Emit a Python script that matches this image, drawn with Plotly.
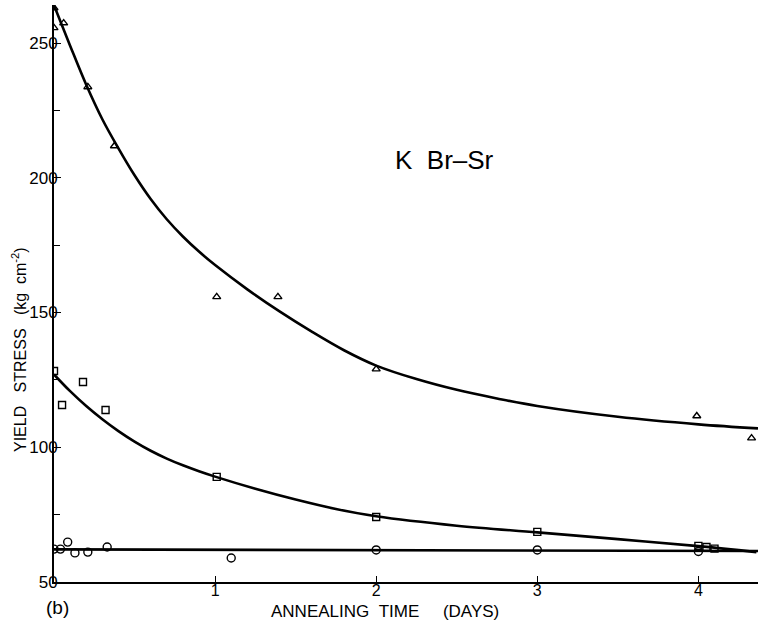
import plotly.graph_objects as go

# Annealing time (days) and yield stress (kg cm^-2) for KBr:Sr
tri_days = [0.0, 0.0, 0.06, 0.21, 0.375, 1.01, 1.39, 2.0, 3.99, 4.33]
tri_stress = [263.0, 255.6, 257.4, 233.7, 211.8, 155.8, 155.8, 129.0, 111.6, 103.4]

sq_days = [0.0, 0.05, 0.18, 0.32, 1.01, 2.0, 3.0, 4.0, 4.05, 4.1]
sq_stress = [128.3, 115.7, 124.2, 113.8, 89.0, 74.1, 68.6, 63.4, 63.0, 62.4]

circ_days = [0.0, 0.04, 0.085, 0.13, 0.21, 0.33, 1.1, 2.0, 3.0, 4.0]
circ_stress = [62.2, 62.2, 64.8, 60.8, 61.1, 63.0, 58.9, 61.9, 61.9, 61.3]

# Smooth curves drawn through the data
tri_fit_days = [0.0, 0.1, 0.2, 0.3, 0.4, 0.5, 0.6, 0.7, 0.8, 0.9, 1.0, 1.2, 1.4, 1.6,
                1.8, 2.0, 2.25, 2.5, 2.75, 3.0, 3.5, 4.0, 4.37]
tri_fit_stress = [264.0, 249.0, 234.5, 221.7, 210.9, 200.9, 192.1, 184.6, 178.2, 172.6, 167.6,
                  158.6, 150.4, 142.9, 136.0, 130.3, 125.3, 121.3, 118.1, 115.3, 111.3, 108.5, 107.0]

sq_fit_days = [0.0, 0.1, 0.2, 0.3, 0.4, 0.5, 0.6, 0.7, 0.8, 0.9, 1.0, 1.25, 1.5, 1.75,
               2.0, 2.5, 3.0, 3.5, 4.0, 4.36]
sq_fit_stress = [127.0, 120.8, 115.3, 110.4, 106.0, 102.1, 98.7, 95.8, 93.3, 91.1, 89.1, 84.6,
                 80.6, 77.1, 74.4, 70.9, 68.4, 65.9, 63.3, 61.1]

circ_fit_days = [0.0, 4.37]
circ_fit_stress = [62.1, 61.5]

x_ticks = [1, 2, 3, 4]
y_ticks = [50, 100, 150, 200, 250]
y_minor_ticks = [75, 125, 175, 225]

fig = go.Figure()

line_style = dict(color="black", width=2.6, shape="spline", smoothing=1.0)
for xs, ys in [(tri_fit_days, tri_fit_stress), (sq_fit_days, sq_fit_stress),
               (circ_fit_days, circ_fit_stress)]:
    fig.add_trace(go.Scatter(x=xs, y=ys, mode="lines", line=line_style,
                             hoverinfo="skip", showlegend=False))

marker_line = dict(color="black", width=1.4)
fig.add_trace(go.Scatter(x=tri_days, y=tri_stress, mode="markers", showlegend=False,
                         marker=dict(symbol="triangle-up-open", size=7, color="black", line=marker_line)))
fig.add_trace(go.Scatter(x=sq_days, y=sq_stress, mode="markers", showlegend=False,
                         marker=dict(symbol="square-open", size=7, color="black", line=marker_line)))
fig.add_trace(go.Scatter(x=circ_days, y=circ_stress, mode="markers", showlegend=False,
                         marker=dict(symbol="circle-open", size=8, color="black", line=marker_line)))

font_family = "Liberation Sans, Arial, sans-serif"
nb = "\u00a0"

# Free-standing labels, positioned in page pixels (converted to paper units below)
labels = [
    ("K" + nb * 2 + "Br–Sr", 444, 160, 0, 26),
    ("ANNEALING" + nb * 2 + "TIME" + nb * 5 + "(DAYS)", 385, 611, 0, 17),
    ("YIELD" + nb * 3 + "STRESS" + nb * 3 + "(kg" + nb * 2 + "cm<sup>-2</sup>)", 19, 350, -90, 16),
    ("(b)", 57, 607, 0, 19),
]

W, H = 765, 629
l, r, t, b = 54, 7, 5, 47
pw, ph = W - l - r, H - t - b

annotations = [
    dict(text=txt, x=(px - l) / pw, y=1 - (py - t) / ph, xref="paper", yref="paper",
         xanchor="center", yanchor="middle", textangle=ang, showarrow=False,
         font=dict(size=fs))
    for txt, px, py, ang, fs in labels
]

fig.update_layout(
    width=W, height=H,
    margin=dict(l=l, r=r, t=t, b=b),
    paper_bgcolor="white", plot_bgcolor="white",
    font=dict(family=font_family, size=16, color="black"),
    xaxis=dict(range=[0, 4.37], tickvals=x_ticks, ticks="inside", ticklen=6,
               tickwidth=1.3, tickcolor="black", showline=True, linecolor="black",
               linewidth=1.6, showgrid=False, zeroline=False,
               tickfont=dict(size=16), ticklabelstandoff=-7),
    yaxis=dict(range=[50, 264.1], tickvals=y_ticks, ticks="inside", ticklen=7,
               tickwidth=1.3, tickcolor="black", showline=True, linecolor="black",
               linewidth=2, showgrid=False, zeroline=False,
               tickfont=dict(size=17), ticklabelstandoff=-9,
               minor=dict(tickvals=y_minor_ticks, ticks="inside", ticklen=6,
                          tickwidth=1.3, tickcolor="black")),
    annotations=annotations,
)

fig.write_html("out.html")
